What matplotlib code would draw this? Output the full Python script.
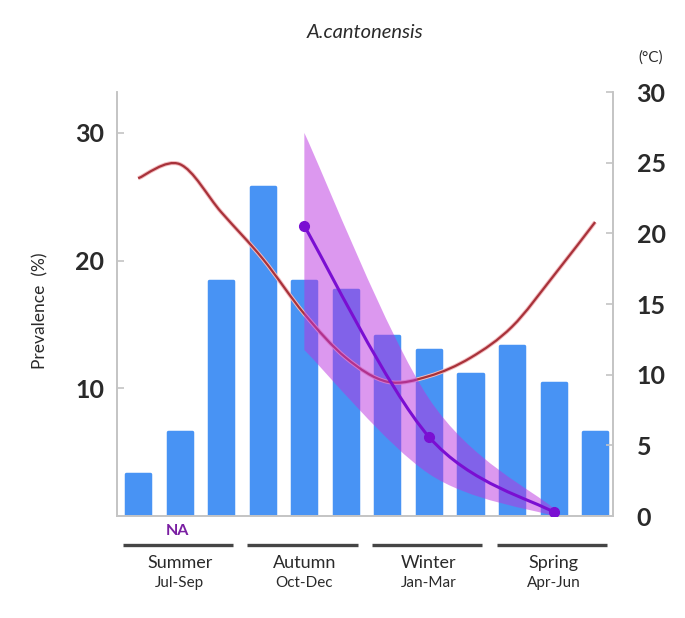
import numpy as np
import matplotlib
matplotlib.use('Agg')
import matplotlib.pyplot as plt
from matplotlib.path import Path
from matplotlib.patches import PathPatch
import matplotlib.patheffects as pe

plt.rcParams['font.family'] = ['Lato', 'DejaVu Sans']

months = ['Jul', 'Aug', 'Sep', 'Oct', 'Nov', 'Dec', 'Jan', 'Feb', 'Mar', 'Apr', 'May', 'Jun']
prevalence = [3.3, 6.6, 18.4, 25.8, 18.4, 17.7, 14.1, 13.0, 11.1, 13.3, 10.4, 6.6]
temperature = [23.9, 24.9, 21.5, 18.2, 14.3, 11.2, 9.5, 9.9, 11.2, 13.4, 17.0, 20.8]

seasons = ['Summer', 'Autumn', 'Winter', 'Spring']
season_months = ['Jul-Sep', 'Oct-Dec', 'Jan-Mar', 'Apr-Jun']

# seasonal estimate with interval (left axis), no data in summer
snail_months = ['Nov', 'Feb', 'May']
snail_rate = [22.7, 6.2, 0.3]
snail_upper = [30.0, 9.2, 0.6]
snail_lower = [13.0, 3.3, 0.0]

BAR_COLOR = '#4893f4'
TEMP_COLOR = '#a8323a'
PURPLE = '#7a0fd2'
TEXT = '#2a2a2a'


def bezier_pts(xs, ys):
    # catmull-rom -> cubic bezier control points (smooth drawing only)
    p = np.column_stack([xs, ys]).astype(float)
    ext = np.vstack([p[0], p, p[-1]])
    verts = [p[0]]
    for i in range(len(p) - 1):
        p0, p1, p2, p3 = ext[i], ext[i + 1], ext[i + 2], ext[i + 3]
        verts += [p1 + (p2 - p0) / 6, p2 - (p3 - p1) / 6, p2]
    return np.array(verts)


def smooth_line(xs, ys):
    v = bezier_pts(xs, ys)
    codes = [Path.MOVETO] + [Path.CURVE4] * (len(v) - 1)
    return Path(v, codes)


def smooth_band(xs, lo, hi):
    up = bezier_pts(xs, hi)
    dn = bezier_pts(xs, lo)[::-1]
    v = np.vstack([up, dn, up[:1]])
    codes = ([Path.MOVETO] + [Path.CURVE4] * (len(up) - 1)
             + [Path.LINETO] + [Path.CURVE4] * (len(dn) - 1) + [Path.CLOSEPOLY])
    return Path(v, codes)


x = np.arange(len(months))
sx = np.array([months.index(m) for m in snail_months])

fig = plt.figure(figsize=(6.85, 6.18), dpi=100)
ax = fig.add_axes([0.1708, 0.165, 0.7241, 0.686])

ax.bar(x, prevalence, width=0.58, color=BAR_COLOR, edgecolor=BAR_COLOR,
       linewidth=2.5, joinstyle='round', zorder=1)
ax.set_xlim(-0.51, 11.43)
ax.set_ylim(0, 33.2)
ax.set_yticks([10, 20, 30])
ax.set_xticks([])

ax2 = ax.twinx()
ax2.set_ylim(0, 30)
ax2.set_yticks(range(0, 31, 5))
tp = PathPatch(smooth_line(x, temperature), fill=False, edgecolor=TEMP_COLOR, lw=1.6,
               path_effects=[pe.Stroke(linewidth=3.0, foreground='#f3bcc0'), pe.Normal()])
ax2.add_patch(tp)

ax3 = ax.twinx()
ax3.set_ylim(ax.get_ylim())
ax3.axis('off')
ax3.add_patch(PathPatch(smooth_band(sx, snail_lower, snail_upper),
                        facecolor='#bb33e0', edgecolor='none', alpha=0.5))
ax3.add_patch(PathPatch(smooth_line(sx, snail_rate), fill=False, edgecolor=PURPLE, lw=2.2))
ax3.plot(sx, snail_rate, 'o', color=PURPLE, ms=7)

for a in (ax, ax2):
    a.spines['top'].set_visible(False)
    for s in ('left', 'right', 'bottom'):
        a.spines[s].set_color('#c4c4c4')
        a.spines[s].set_linewidth(1.2)

ax.tick_params(axis='y', direction='in', length=5, width=1.2, color='#c4c4c4',
               labelsize=18, labelcolor=TEXT, pad=9)
ax2.tick_params(axis='y', direction='in', length=5, width=1.2, color='#c4c4c4',
                labelsize=18, labelcolor=TEXT, pad=17)
for lab in ax.get_yticklabels() + ax2.get_yticklabels():
    lab.set_fontweight('bold')

# season brackets under the bars
xt = ax.get_xaxis_transform()
for k, (s, m) in enumerate(zip(seasons, season_months)):
    ax.plot([3 * k - 0.37, 3 * k + 2.28], [-0.069, -0.069], transform=xt,
            clip_on=False, color='#454545', lw=2.4, solid_capstyle='butt')
    ax.text(3 * k + 1, -0.11, s, transform=xt, ha='center', va='center',
            fontsize=13, color=TEXT)
    ax.text(3 * k + 1, -0.159, m, transform=xt, ha='center', va='center',
            fontsize=11, color=TEXT)
ax.text(0.95, -0.036, 'NA', transform=xt, ha='center', va='center',
        fontsize=11.5, fontweight='bold', color='#7a1fa2')

fig.text(365 / 685, 1 - 32 / 618, 'A.cantonensis', ha='center', va='center',
         fontsize=14.5, style='italic', color=TEXT)
fig.text(651 / 685, 1 - 58 / 618, '(°C)', ha='center', va='center',
         fontsize=11, color=TEXT)
fig.text(40 / 685, 1 - 311 / 618, 'Prevalence  (%)', ha='center', va='center',
         rotation=90, fontsize=12.5, color=TEXT)

plt.savefig('out.png', dpi=100)
